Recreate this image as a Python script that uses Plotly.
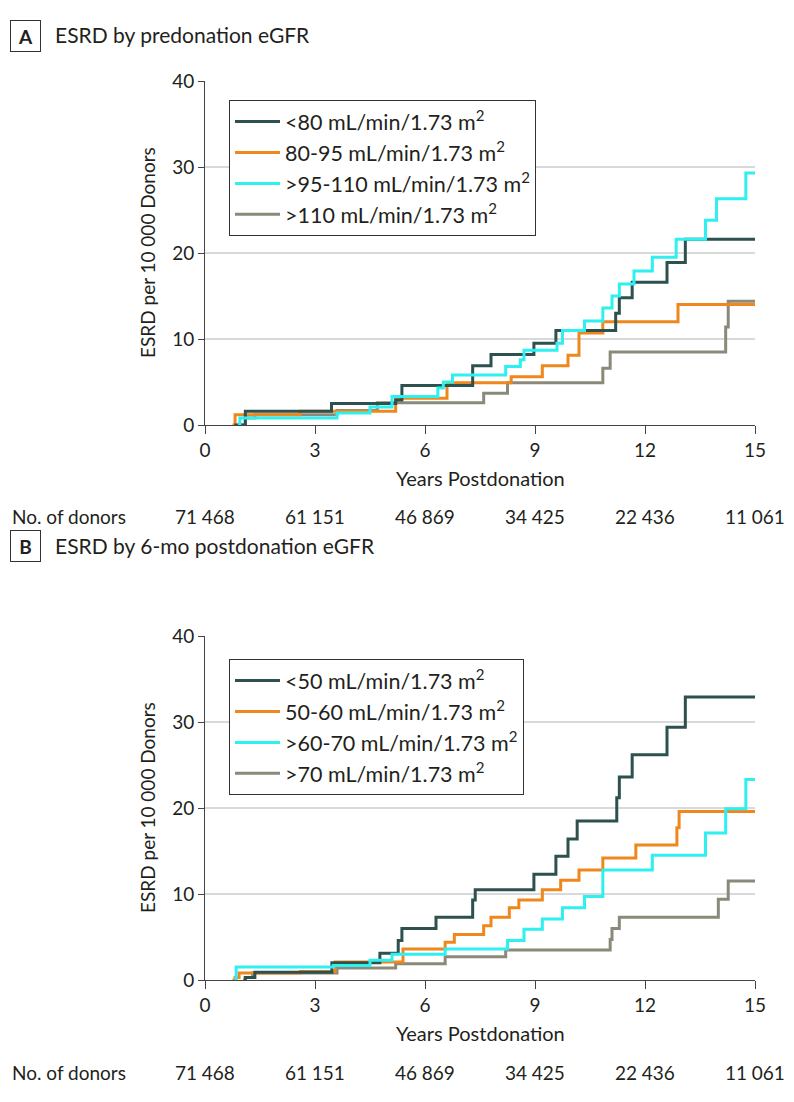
import plotly.graph_objects as go

# ---------------- data ----------------
x_ticks = [0, 3, 6, 9, 12, 15]
donors = ["71\u2005468", "61\u2005151", "46\u2005869", "34\u2005425", "22\u2005436", "11\u2005061"]

# Panel A: ESRD by predonation eGFR
a_lt80_t = [0.8, 1.1, 3.45, 5.2, 5.37, 7.3, 7.8, 8.97, 9.57, 11.2, 11.3, 11.65, 12.6, 13.1, 15]
a_lt80_v = [0, 1.6, 2.5, 2.9, 4.6, 6.9, 8.2, 9.5, 11.0, 13.0, 14.8, 16.6, 18.9, 21.6, 21.6]
a_80_95_t = [0.75, 0.82, 2.6, 5.2, 6.6, 8.35, 9.2, 9.9, 10.2, 10.85, 12.9, 15]
a_80_95_v = [0, 1.2, 1.6, 3.1, 4.9, 5.6, 6.9, 8.1, 10.7, 12.0, 14.0, 14.0]
a_95_110_t = [0.9, 0.95, 3.6, 4.5, 5.1, 6.35, 6.5, 6.75, 8.2, 8.6, 8.7, 9.6, 9.75, 10.35, 10.85,
              11.1, 11.3, 11.7, 12.2, 12.85, 13.65, 13.95, 14.75, 15]
a_95_110_v = [0, 0.8, 1.4, 2.1, 3.3, 4.3, 5.0, 5.8, 6.8, 7.6, 8.7, 9.5, 11.0, 12.1, 13.6,
              15.0, 16.4, 17.9, 19.5, 21.6, 23.8, 26.3, 29.3, 29.3]
a_gt110_t = [0.88, 1.1, 1.36, 3.6, 4.7, 7.6, 8.25, 10.85, 11.05, 14.2, 14.27, 15]
a_gt110_v = [0, 0.8, 1.2, 1.7, 2.6, 3.7, 4.9, 6.6, 8.5, 11.4, 14.4, 14.4]

# Panel B: ESRD by 6-mo postdonation eGFR
b_lt50_t = [1.05, 1.1, 1.36, 3.46, 4.77, 5.27, 5.37, 6.3, 7.3, 7.37, 8.97, 9.57, 9.9, 10.15,
            11.23, 11.3, 11.65, 12.6, 13.1, 15]
b_lt50_v = [0, 0.3, 0.9, 2.0, 3.1, 4.6, 6.0, 7.3, 9.3, 10.5, 12.3, 14.4, 16.4, 18.5,
            21.2, 23.6, 26.2, 29.4, 32.9, 32.9]
b_50_60_t = [0.75, 0.82, 0.93, 2.6, 3.55, 5.4, 6.55, 6.8, 7.6, 7.8, 8.3, 8.56, 9.2, 9.7,
             10.2, 10.85, 11.75, 12.87, 12.93, 15]
b_50_60_v = [0, 0.3, 0.8, 1.0, 2.1, 3.6, 4.4, 5.3, 6.3, 7.3, 8.4, 9.3, 10.5, 11.6,
             12.8, 14.2, 15.7, 17.7, 19.6, 19.6]
b_60_70_t = [0.8, 0.85, 3.5, 4.5, 5.1, 6.55, 8.25, 8.7, 9.2, 9.75, 10.35, 10.85, 12.2,
             13.65, 14.2, 14.75, 15]
b_60_70_v = [0, 1.5, 1.7, 2.3, 3.0, 3.6, 4.6, 5.9, 7.1, 8.4, 9.7, 12.8, 14.5,
             17.1, 19.9, 23.3, 23.3]
b_gt70_t = [1.05, 1.1, 1.3, 3.6, 5.2, 6.55, 8.2, 11.05, 11.1, 11.3, 14.0, 14.27, 15]
b_gt70_v = [0, 0.3, 0.8, 1.4, 1.9, 2.7, 3.5, 4.7, 6.0, 7.3, 9.4, 11.5, 11.5]

a_names = ["<80 mL/min/1.73 m<sup>2</sup>", "80-95 mL/min/1.73 m<sup>2</sup>",
           ">95-110 mL/min/1.73 m<sup>2</sup>", ">110 mL/min/1.73 m<sup>2</sup>"]
b_names = ["<50 mL/min/1.73 m<sup>2</sup>", "50-60 mL/min/1.73 m<sup>2</sup>",
           ">60-70 mL/min/1.73 m<sup>2</sup>", ">70 mL/min/1.73 m<sup>2</sup>"]

# ---------------- styling ----------------
OFF = 8                      # page body margin of the exported html
W, H = 794 - 2 * OFF, 1102 - 2 * OFF
FONT = "Lato, Liberation Sans, sans-serif"
TXT = "#231f20"
colors = ["#2c514f", "#f0871c", "#2ef0f0", "#8b8a7a"]

def px_x(p):
    return (p - OFF) / W

def px_y(p):
    return 1 - (p - OFF) / H

fig = go.Figure()

a_series = [(a_lt80_t, a_lt80_v), (a_80_95_t, a_80_95_v), (a_95_110_t, a_95_110_v), (a_gt110_t, a_gt110_v)]
b_series = [(b_lt50_t, b_lt50_v), (b_50_60_t, b_50_60_v), (b_60_70_t, b_60_70_v), (b_gt70_t, b_gt70_v)]

draw_order = [3, 1, 0, 2]
for i in draw_order:
    t, v = a_series[i]
    fig.add_trace(go.Scatter(x=t, y=v, mode="lines", line=dict(shape="hv", color=colors[i], width=3),
                             name=a_names[i], legend="legend", legendrank=i + 1,
                             xaxis="x", yaxis="y", hoverinfo="skip"))
for i in draw_order:
    t, v = b_series[i]
    fig.add_trace(go.Scatter(x=t, y=v, mode="lines", line=dict(shape="hv", color=colors[i], width=3),
                             name=b_names[i], legend="legend2", legendrank=i + 1,
                             xaxis="x2", yaxis="y2", hoverinfo="skip"))

xdom = [px_x(205), px_x(755)]
axis_common_x = dict(range=[0, 15], tickvals=x_ticks, ticks="outside", ticklen=8, tickwidth=1,
                     tickcolor="#444", showline=True, linecolor="#444", linewidth=1,
                     showgrid=False, zeroline=False, tickfont=dict(size=19, color=TXT, family=FONT),
                     fixedrange=True, automargin=False)
axis_common_y = dict(range=[0, 40], tickvals=[0, 10, 20, 30, 40], ticks="outside", ticklen=6,
                     tickwidth=1, tickcolor="#444", showline=True, linecolor="#444", linewidth=1,
                     showgrid=True, gridcolor="#d9d9d9", gridwidth=2, zeroline=False,
                     tickfont=dict(size=19, color=TXT, family=FONT), fixedrange=True,
                     automargin=False)

legend_common = dict(bgcolor="white", bordercolor="#333", borderwidth=1,
                     font=dict(size=21.5, color=TXT, family=FONT), xanchor="left", yanchor="top",
                     traceorder="normal", itemwidth=45)

fig.update_layout(
    width=W, height=H, margin=dict(l=0, r=0, t=0, b=0, autoexpand=False),
    paper_bgcolor="white", plot_bgcolor="white",
    font=dict(family=FONT, color=TXT),
    xaxis=dict(domain=xdom, anchor="y", **axis_common_x),
    yaxis=dict(domain=[px_y(425), px_y(81)], anchor="x", **axis_common_y),
    xaxis2=dict(domain=xdom, anchor="y2", **axis_common_x),
    yaxis2=dict(domain=[px_y(980), px_y(636)], anchor="x2", **axis_common_y),
    legend=dict(x=px_x(229), y=px_y(100), **legend_common),
    legend2=dict(x=px_x(229), y=px_y(659), **legend_common),
    showlegend=True,
)

ann = []
for (top, letter, title) in [(21, "A", "ESRD by predonation eGFR"),
                             (531, "B", "ESRD by 6-mo postdonation eGFR")]:
    ann.append(dict(x=px_x(25), y=px_y(top + 15), xref="paper", yref="paper", text="<b>%s</b>" % letter,
                    showarrow=False, xanchor="center", yanchor="middle", width=25, height=26,
                    bordercolor="#333", borderwidth=1, borderpad=2,
                    font=dict(size=19, color=TXT, family=FONT)))
    ann.append(dict(x=px_x(53), y=px_y(top + 14), xref="paper", yref="paper", text=title,
                    showarrow=False, xanchor="left", yanchor="middle",
                    font=dict(size=21, color=TXT, family=FONT)))

for (ya, plot_top, plot_bot, xa) in [("y", 81, 425, "x"), ("y2", 636, 980, "x2")]:
    ann.append(dict(x=px_x(147), y=px_y((plot_top + plot_bot) / 2), xref="paper", yref="paper",
                    text="ESRD per 10\u2005000 Donors", textangle=-90, showarrow=False,
                    xanchor="center", yanchor="middle", font=dict(size=19, color=TXT, family=FONT)))
    ann.append(dict(x=px_x(480), y=px_y(plot_bot + 53), xref="paper", yref="paper",
                    text="Years Postdonation", showarrow=False, xanchor="center", yanchor="middle",
                    font=dict(size=20, color=TXT, family=FONT)))
    ann.append(dict(x=px_x(10), y=px_y(plot_bot + 92), xref="paper", yref="paper",
                    text="No. of donors", showarrow=False, xanchor="left", yanchor="middle",
                    font=dict(size=19, color=TXT, family=FONT)))
    for xv, d in zip(x_ticks, donors):
        ann.append(dict(x=xv, y=px_y(plot_bot + 92), xref=xa, yref="paper", text=d,
                        showarrow=False, xanchor="center", yanchor="middle",
                        font=dict(size=19, color=TXT, family=FONT)))

fig.update_layout(annotations=ann)
fig.write_html("out.html")
